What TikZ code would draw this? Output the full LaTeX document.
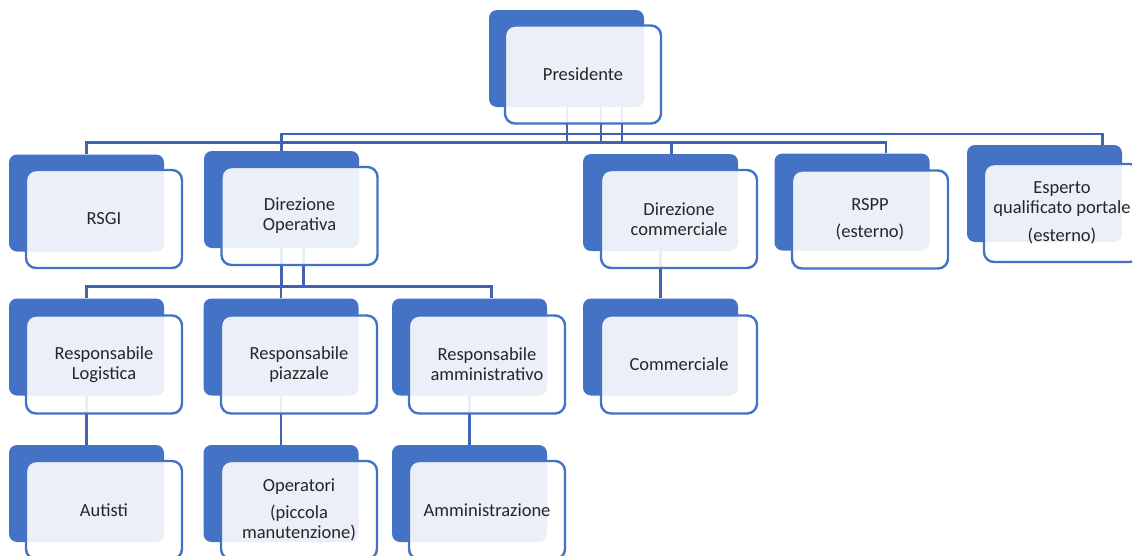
\documentclass[tikz,border=0pt]{standalone}
\usepackage{fontspec}
\setmainfont{Carlito}
\usetikzlibrary{backgrounds}
\definecolor{smblue}{HTML}{4472C4}
\definecolor{smline}{HTML}{3F65B2}
\definecolor{smtext}{HTML}{262626}
\tikzset{
  backbox/.style={fill=smblue, rounded corners=8pt, minimum width=155pt, minimum height=97pt, inner sep=0pt},
  frontbox/.style={draw=smblue, line width=2.4pt, fill=white, fill opacity=0.89, text opacity=1,
    rounded corners=10pt, minimum width=156pt, minimum height=98pt, inner sep=0pt,
    align=center, text=smtext, font=\fontsize{18.5}{20}\selectfont},
  conn/.style={draw=smline, line width=2.6pt}
}

\begin{document}
\begin{tikzpicture}[x=1pt,y=-1pt]
\useasboundingbox (0,0) rectangle (1132,555);

% top level
\node[backbox] (pres-b) at (566.5,58.5) {};
\node[frontbox] (pres) at (583,74.5) {Presidente};

% second row
\node[backbox] (rsgi-b) at (86.5,203) {};
\node[frontbox] (rsgi) at (104,219) {RSGI};
\node[backbox] (dirop-b) at (281.5,199.5) {};
\node[frontbox] (dirop) at (299.5,216) {Direzione\\Operativa};
\node[backbox] (dircom-b) at (660.5,202.5) {};
\node[frontbox] (dircom) at (679,219) {Direzione\\commerciale};
\node[backbox] (rspp-b) at (852,202) {};
\node[frontbox] (rspp) at (870,219.5) {RSPP\\[7pt](esterno)};
\node[backbox] (esp-b) at (1044.5,193.5) {};
\node[frontbox] (esp) at (1062,213) {Esperto\\qualificato portale\\[8pt](esterno)};

% third row
\node[backbox] (log-b) at (86.5,347) {};
\node[frontbox] (log) at (104,364.5) {Responsabile\\Logistica};
\node[backbox] (piaz-b) at (281,347) {};
\node[frontbox] (piaz) at (299,364.5) {Responsabile\\piazzale};
\node[backbox] (amm-b) at (469.5,347) {};
\node[frontbox] (amm) at (487,364.5) {Responsabile\\amministrativo};
\node[backbox] (comm-b) at (660.5,347) {};
\node[frontbox] (comm) at (679,364.5) {Commerciale};

% bottom row
\node[backbox] (aut-b) at (86.5,493.5) {};
\node[frontbox] (aut) at (104,510) {Autisti};
\node[backbox] (oper-b) at (281,493.5) {};
\node[frontbox] (oper) at (299,510) {Operatori\\[7pt](piccola\\manutenzione)};
\node[backbox] (ammz-b) at (469.5,493.5) {};
\node[frontbox] (ammz) at (487,510) {Amministrazione};

\begin{scope}[on background layer]
% from Presidente
\foreach \dx in {0.5,34.5,55.5}
  \draw[conn] ([xshift=\dx pt]pres-b.south) -- ++(0,36);
\draw[conn] (rsgi-b.north) -- ++(0,-12) -| ([xshift=34pt]rspp-b.north);
\draw[conn] (dirop-b.north) -- ++(0,-10);
\draw[conn] ([xshift=11pt]dircom-b.north) -- ++(0,-12);
\draw[conn] ([xshift=58pt]esp-b.north) -- ++(0,-11) -| (dirop-b.north);
% from Direzione Operativa
\draw[conn] (dirop-b.south) -- ++(0,39);
\draw[conn] ([xshift=22pt]dirop-b.south) -- ++(0,39);
\draw[conn] (log-b.north) -- ++(0,-12) -| ([xshift=22pt]amm-b.north);
\draw[conn] (piaz-b.north) -- ++(0,-12);
% down to the last level
\draw[conn] (dircom-b.south) -- (comm-b.north);
\draw[conn] (log-b.south) -- (aut-b.north);
\draw[conn] (piaz-b.south) -- (oper-b.north);
\draw[conn] (amm-b.south) -- (ammz-b.north);
\end{scope}
\end{tikzpicture}
\end{document}
